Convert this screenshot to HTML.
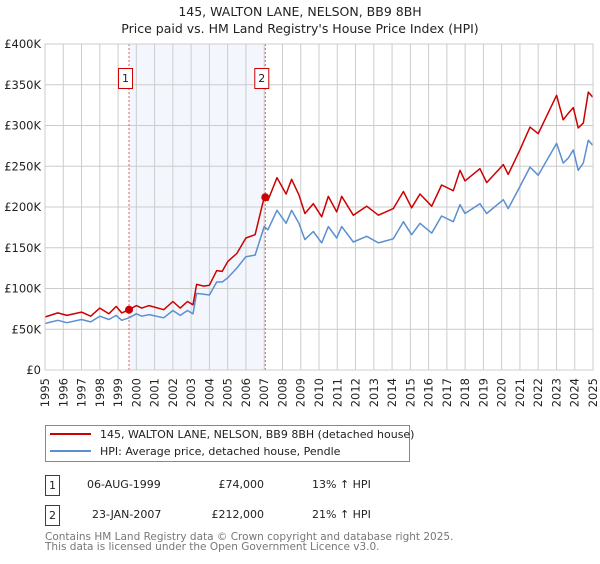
<!DOCTYPE html>
<html><head><meta charset="utf-8"><style>
body{margin:0;background:#fff;font-family:"DejaVu Sans","Liberation Sans",sans-serif;}
svg text{font-family:"DejaVu Sans","Liberation Sans",sans-serif;}
</style></head><body>
<svg id="chart" width="600" height="560" xmlns="http://www.w3.org/2000/svg">
<text x="300" y="16" text-anchor="middle" font-size="12.5" fill="#222">145, WALTON LANE, NELSON, BB9 8BH</text>
<text x="300" y="33" text-anchor="middle" font-size="12.5" fill="#222">Price paid vs. HM Land Registry's House Price Index (HPI)</text>
<g id="plot"></g>
<g>
<rect x="45.5" y="425.5" width="364" height="36" fill="#fff" stroke="#888"/>
<line x1="50" y1="434" x2="91" y2="434" stroke="#cc0000" stroke-width="2"/>
<text x="100" y="438" font-size="11" fill="#222">145, WALTON LANE, NELSON, BB9 8BH (detached house)</text>
<line x1="50" y1="451" x2="91" y2="451" stroke="#5b8fd0" stroke-width="2"/>
<text x="100" y="455" font-size="11" fill="#222">HPI: Average price, detached house, Pendle</text>
</g>
<g font-size="11" fill="#222">
<rect x="45.5" y="475.5" width="14" height="20" fill="#fff" stroke="#cc0000"/>
<text x="52.5" y="489" text-anchor="middle">1</text>
<text x="87" y="488">06-AUG-1999</text>
<text x="264" y="488" text-anchor="end">£74,000</text>
<text x="312" y="488">13% ↑ HPI</text>
<rect x="45.5" y="505.5" width="14" height="20" fill="#fff" stroke="#cc0000"/>
<text x="52.5" y="519" text-anchor="middle">2</text>
<text x="92" y="518">23-JAN-2007</text>
<text x="264" y="518" text-anchor="end">£212,000</text>
<text x="312" y="518">21% ↑ HPI</text>
</g>
<text x="45" y="540" font-size="10.5" fill="#777">Contains HM Land Registry data © Crown copyright and database right 2025.</text>
<text x="45" y="550" font-size="10.5" fill="#777">This data is licensed under the Open Government Licence v3.0.</text>
</svg>
<script>
const hpiYears=[1995,1995.7,1996.2,1997,1997.5,1998,1998.5,1998.9,1999.2,1999.6,2000,2000.3,2000.7,2001.5,2002,2002.4,2002.8,2003.1,2003.3,2003.7,2004,2004.4,2004.7,2005,2005.5,2006,2006.5,2007,2007.2,2007.7,2008.2,2008.5,2008.9,2009.23,2009.69,2010.15,2010.51,2010.97,2011.24,2011.88,2012.61,2013.25,2014.07,2014.62,2015.07,2015.53,2016.17,2016.71,2017.35,2017.72,2017.99,2018.81,2019.18,2020.09,2020.36,2021.0,2021.55,2022.0,2023.01,2023.37,2023.65,2023.92,2024.19,2024.47,2024.74,2024.98];
const hpiValues=[57,61,58,62,59,66,62,67,61,64,69,66,68,64,73,67,73,69,94,93,92,108,108,113,125,139,141,176,172,196,180,196,180,160,170,156,176,162,176,157,164,156,161,182,166,180,168,189,182,203,192,204,192,209,198,225,249,239,278,254,260,270,245,254,282,276];
const priceValues=[65,70,67,71,66,76,69,78,70,74,79,76,79,74,84,76,84,80,105,103,104,122,121,133,143,162,166,212,208,236,216,234,215,192,204,188,213,194,213,190,201,190,198,219,199,216,201,227,220,245,232,247,230,252,240,270,298,290,337,307,315,322,297,303,341,335];
const yTicks=[0,50,100,150,200,250,300,350,400];
const yTickLabels=["£0","£50K","£100K","£150K","£200K","£250K","£300K","£350K","£400K"];
const xTicks=[1995,1996,1997,1998,1999,2000,2001,2002,2003,2004,2005,2006,2007,2008,2009,2010,2011,2012,2013,2014,2015,2016,2017,2018,2019,2020,2021,2022,2023,2024,2025];
const saleYears=[1999.6,2007.06];
const salePrices=[74,212];
const saleLabels=["1","2"];

const L=45,R=593,T=44,B=370;
const x=v=>L+(v-1995)/(2025-1995)*(R-L);
const y=v=>B-v/400*(B-T);
const NS="http://www.w3.org/2000/svg";
const plot=document.getElementById('plot');
function mk(tag,attrs,parent){const e=document.createElementNS(NS,tag);for(const k in attrs)e.setAttribute(k,attrs[k]);(parent||plot).appendChild(e);return e;}

const shade=mk('rect',{x:x(saleYears[0]),y:T,width:x(saleYears[1])-x(saleYears[0]),height:B-T,fill:'#eef3fc',opacity:0.7});



xTicks.forEach(t=>{
  const g=mk('line',{x1:x(t),x2:x(t),y1:T,y2:B,stroke:'#ccc','stroke-width':1});
  
  
  const tx=mk('text',{x:0,y:0,transform:`translate(${x(t)+4},${B+8}) rotate(-90)`,'text-anchor':'end','font-size':11.5,fill:'#222'});
  tx.textContent=t;
  
  
});
yTicks.forEach((t,i)=>{
  const g=mk('line',{x1:L,x2:R,y1:y(t),y2:y(t),stroke:'#ccc','stroke-width':1});
  
  
  const tx=mk('text',{x:L-4,y:y(t)+4,'text-anchor':'end','font-size':11.5,fill:'#222'});
  tx.textContent=yTickLabels[i];
  
  
});

saleYears.forEach((s,i)=>{
  const l=mk('line',{x1:x(s),x2:x(s),y1:T,y2:B,stroke:'#e06060','stroke-width':1,'stroke-dasharray':'2,2'});
  
  
  const b=mk('rect',{x:x(s)-10.5,y:68.5,width:14,height:20,fill:'#fff',stroke:'#cc0000'});
  
  
  const t=mk('text',{x:x(s)-3.5,y:82,'text-anchor':'middle','font-size':11,fill:'#222'});
  t.textContent=saleLabels[i];
  
  
});

const pts=(vals)=>hpiYears.map((yr,i)=>x(yr).toFixed(1)+','+y(vals[i]).toFixed(1)).join(' ');
const hl=mk('polyline',{points:pts(hpiValues),fill:'none',stroke:'#5b8fd0','stroke-width':1.5,'stroke-linejoin':'round'});


const pl=mk('polyline',{points:pts(priceValues),fill:'none',stroke:'#cc0000','stroke-width':1.5,'stroke-linejoin':'round'});



saleYears.forEach((s,i)=>{
  const c=mk('circle',{cx:x(s),cy:y(salePrices[i]),r:4,fill:'#cc0000'});
  
  
});
const ax=mk('rect',{x:L,y:T,width:R-L,height:B-T,fill:'none',stroke:'#ccc'});


</script>
</body></html>
